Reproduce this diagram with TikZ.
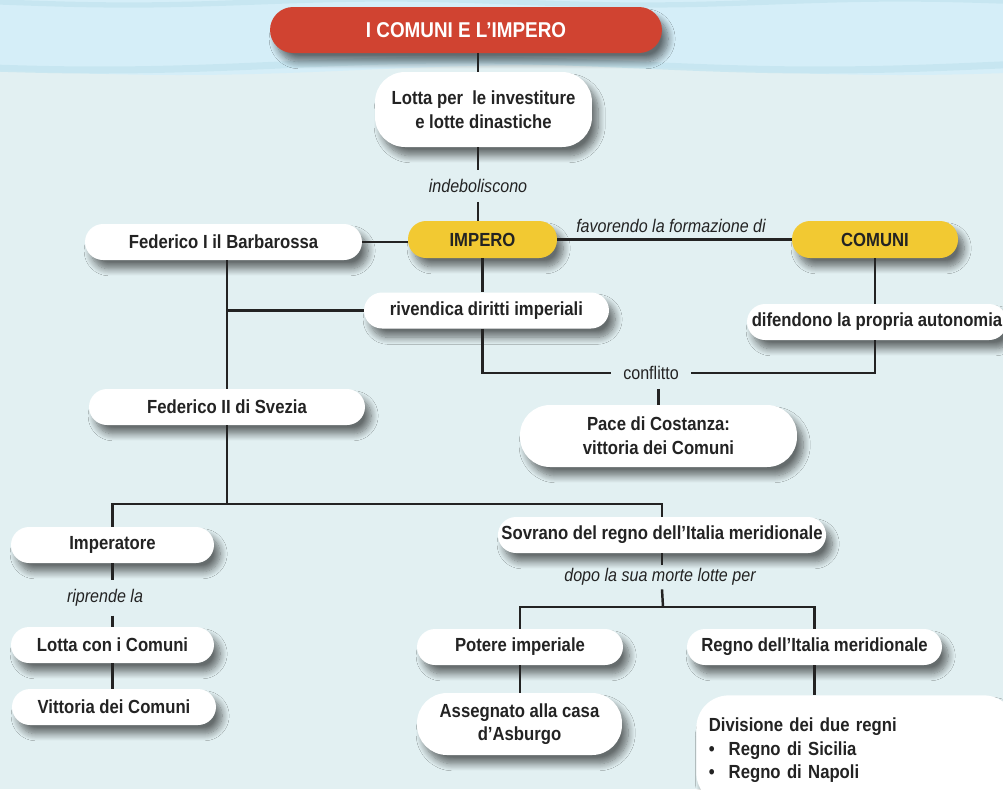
\documentclass[tikz,border=0pt]{standalone}
\usepackage{fontspec}
\setmainfont{Liberation Sans}[FakeStretch=0.88]
\usepackage{xcolor}
\usepackage{tikz}
\usetikzlibrary{shadows.blur}

\definecolor{titlered}{HTML}{D04331}
\definecolor{mapyellow}{HTML}{F2C932}
\definecolor{bglow}{HTML}{E2F0F2}
\definecolor{bgtop}{HTML}{D5EEF8}
\definecolor{bgwave}{HTML}{C4E5F0}
\definecolor{inkgrey}{HTML}{232323}

\begin{document}
\begin{tikzpicture}[
  x=0.02cm, y=-0.02cm,
  dropshade/.style={
    blur shadow={shadow xshift=3.5pt, shadow yshift=-5pt,
      shadow blur radius=4pt, shadow blur steps=10, shadow opacity=55}
  },
  box/.style={
    dropshade,
    fill=white,
    rounded corners=0.36cm,
    minimum height=0.72cm,
    inner sep=2pt,
    align=center,
    text=inkgrey,
    font=\bfseries\fontsize{10.8}{13.5}\selectfont
  },
  tallbox/.style={box, rounded corners=0.6cm, minimum height=1.24cm},
  keybox/.style={box, fill=mapyellow, minimum height=0.74cm},
  titlebox/.style={
    box,
    fill=titlered,
    text=white,
    rounded corners=0.46cm,
    minimum height=0.92cm,
    font=\bfseries\fontsize{12.2}{14}\selectfont
  },
  link/.style={
    inner sep=5pt,
    text=inkgrey,
    font=\itshape\fontsize{10.4}{12}\selectfont
  },
  conn/.style={draw=inkgrey, line width=1.4pt}
]
\useasboundingbox (0,0) rectangle (1003,789);

\fill[bglow] (0,0) rectangle (1003,789);
\fill[bgtop] (0,0) -- plot[domain=0:1003, samples=80] (\x, {70+5*sin(0.5*\x)}) -- (1003,0) -- cycle;
\draw[bgwave, line width=4pt, opacity=0.8] plot[domain=0:1003, samples=80] (\x, {65+5*sin(0.5*\x+40)});
\draw[bgwave, line width=3pt, opacity=0.8] plot[domain=0:1003, samples=80] (\x, {2+3*sin(0.7*\x)});

\node[titlebox, minimum width=7.84cm] (title) at (466,30) {I COMUNI E L’IMPERO};
\node[tallbox, minimum width=4.34cm, minimum height=1.5cm] (lotta) at (483.5,109.5) {
  Lotta per\ \ le investiture\\
  e lotte dinastiche
};
\node[link] (weaken) at (478,186) {indeboliscono};

\node[keybox, minimum width=2.98cm] (impero) at (482.5,239.5) {IMPERO};
\node[keybox, minimum width=3.32cm] (comuni) at (875,239.5) {COMUNI};
\node[link] (favour) at (671,226) {favorendo la formazione di};

\node[box, minimum width=5.54cm] (fed1) at (223.5,242) {Federico I il Barbarossa};
\node[box, minimum width=4.9cm] (claims) at (486.5,310.5) {rivendica diritti imperiali};
\node[box, minimum width=5.2cm] (defend) at (877,322) {difendono la propria autonomia};

\node[link, font=\fontsize{10.4}{12}\selectfont, inner xsep=7pt] (conflict) at (651,373) {conflitto};
\node[tallbox, minimum width=5.54cm] (peace) at (658.5,436) {
  Pace di Costanza:\\
  vittoria dei Comuni
};

\node[box, minimum width=5.52cm] (fed2) at (227,407) {Federico II di Svezia};
\coordinate (split) at (227,504);

\node[box, minimum width=4.06cm] (emperor) at (112.5,545) {Imperatore};
\node[link] (resume) at (105,598) {riprende la};
\node[box, minimum width=4.06cm] (struggle) at (112.5,645) {Lotta con i Comuni};
\node[box, minimum width=4.08cm] (victory) at (114,707) {Vittoria dei Comuni};

\node[box, minimum width=6.44cm] (sovereign) at (662,535) {Sovrano del regno dell’Italia meridionale};
\node[link, inner ysep=2pt] (after) at (660,577) {dopo la sua morte lotte per};
\coordinate (split2) at (663,607);

\node[box, minimum width=4.12cm] (power) at (520,647) {Potere imperiale};
\node[box, minimum width=5.1cm] (south) at (814.5,647) {Regno dell’Italia meridionale};
\node[tallbox, minimum width=4.1cm] (habsburg) at (519.5,724) {
  Assegnato alla casa\\
  d’Asburgo
};
\node[tallbox, anchor=north west, align=left, rounded corners=0.65cm,
  minimum width=6.4cm, minimum height=2.2cm, inner xsep=0.22cm,
  text width=5.9cm] (division) at (696,695) {
  Divisione dei due regni\\
  \textbullet\hspace{8pt}Regno di Sicilia\\
  \textbullet\hspace{8pt}Regno di Napoli
};

\draw[conn] (weaken.north |- title.south) -- (weaken.north |- lotta.north);
\draw[conn] (weaken.north |- lotta.south) -- (weaken.north);
\draw[conn] (weaken.south) -- (weaken.south |- impero.north);
\draw[conn] (fed1.east) -- (fed1.east -| impero.west);
\draw[conn] (impero.east) -- (comuni.west);
\draw[conn] (impero.south) -- (impero.south |- claims.north);
\draw[conn] (fed2.north |- fed1.south) -- (fed2.north);
\draw[conn] (fed2.north |- claims.west) -- (claims.west);
\draw[conn] (impero.south |- claims.south) -- (impero.south |- conflict.west) -- (conflict.west);
\draw[conn] (comuni.south) -- (comuni.south |- defend.north);
\draw[conn] (comuni.south |- defend.south) -- (comuni.south |- conflict.east) -- (conflict.east);
\draw[conn] (peace.north |- conflict.south) -- (peace.north);

\draw[conn] (fed2.south) -- (split);
\draw[conn] (emperor.north) -- (emperor.north |- split) -- (sovereign.north |- split) -- (sovereign.north);
\draw[conn] (emperor.south) -- (emperor.south |- resume.north);
\draw[conn] (struggle.north |- resume.south) -- (struggle.north);
\draw[conn] (struggle.south) -- (struggle.south |- victory.north);

\draw[conn] (sovereign.south) -- (sovereign.south |- after.north);
\draw[conn] (sovereign.south |- after.south) -- (split2);
\draw[conn] (power.north) -- (power.north |- split2) -- (south.north |- split2) -- (south.north);
\draw[conn] (power.south) -- (power.south |- habsburg.north);
\draw[conn] (south.south) -- (south.south |- division.north);

\end{tikzpicture}
\end{document}
